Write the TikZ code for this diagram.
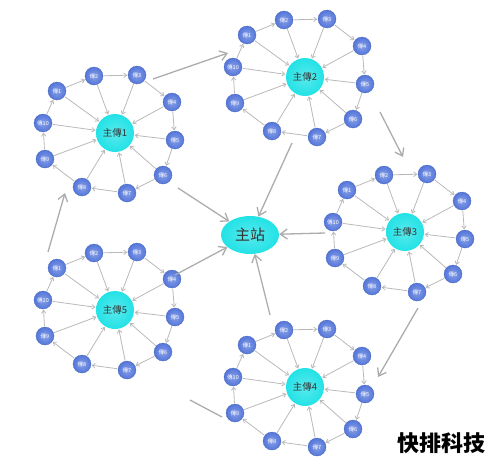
\documentclass[tikz,border=0pt]{standalone}
\usepackage{fontspec}
\setmainfont{Noto Sans CJK SC}
\usepackage{xcolor}
\usetikzlibrary{arrows.meta,calc,positioning,shapes.geometric}
\definecolor{slaveblue}{RGB}{84,118,218}
\definecolor{hubcyan}{RGB}{34,226,230}
\tikzset{%
	slave/.style   = {circle, draw=slaveblue!85!black, line width=0.3pt, inner color=slaveblue!70!white, outer color=slaveblue, minimum size=18pt, inner sep=0pt, text=white, font=\fontsize{5.5}{5.5}\selectfont},
	master/.style  = {circle, inner color=hubcyan!75!white, outer color=hubcyan, minimum size=38pt, inner sep=0pt, text=black!80, font=\fontsize{9.5}{10}\selectfont},
	station/.style = {ellipse, inner color=hubcyan!75!white, outer color=hubcyan, minimum width=58pt, minimum height=38pt, inner sep=0pt, text=black!80, font=\fontsize{15}{15}\selectfont},
	ring/.style    = {draw=gray!55, line width=0.8pt, -{Straight Barb[length=3pt,width=4.5pt]}, shorten <=0.5pt, shorten >=0.5pt},
	link/.style    = {draw=gray!65, line width=1.3pt, -{Straight Barb[length=7pt,width=10pt]}},
}

\begin{document}
\begin{tikzpicture}[x=1pt,y=-1pt]
	\useasboundingbox (0,0) rectangle (501,466);
	
	% main station
	\node[station] (st) at (250,235) {主站};
	
	% five clusters, each with ten slaves around a master
	\foreach \c/\cx/\cy in {1/115/133, 2/305/77, 3/405/232, 4/305/387, 5/115/310} {
		\node[master] (m\c) at (\cx,\cy) {主傳\c};
		\foreach \i/\dx/\dy in {1/-58/-42, 2/-21/-57, 3/22/-58, 4/57/-31, 5/60/7, 6/48/42, 7/12/60, 8/-33/54, 9/-70/26, 10/-72/-10}
			\node[slave] (s\c-\i) at ($(m\c)+(\dx,\dy)$) {傳\i};
		\foreach \i [evaluate=\i as \j using {int(mod(\i,10)+1)}] in {1,...,10} {
			\draw[ring] (s\c-\i) -- (s\c-\j);
			\draw[ring] (s\c-\i) -- (m\c);
		}
	}
	
	% links between the clusters
	\coordinate (a1) at (153,79);  \coordinate (a2) at (228,53);
	\coordinate (b1) at (380,112); \coordinate (b2) at (403,157);
	\coordinate (c1) at (418,308); \coordinate (c2) at (378,377);
	\coordinate (d1) at (222,417); \coordinate (d2) at (190,400);
	\coordinate (e1) at (48,252);  \coordinate (e2) at (65,193);
	\draw[link] (a1) -- (a2);
	\draw[link] (b1) -- (b2);
	\draw[link] (c1) -- (c2);
	\draw[link,-] (d1) -- (d2);
	\draw[link] (e1) -- (e2);
	
	% links to the main station
	\coordinate (f1) at (178,188); \coordinate (f2) at (292,143);
	\coordinate (f3) at (325,233); \coordinate (f4) at (270,315);
	\coordinate (f5) at (175,275);
	\draw[link] (f1) -- (st);
	\draw[link] (f2) -- (st);
	\draw[link] (f3) -- (st);
	\draw[link] (f4) -- (st);
	\draw[link] (f5) -- (st);
	
	\node[font=\fontsize{22}{22}\selectfont\bfseries] (brand) at (441,443) {快排科技};
\end{tikzpicture}
\end{document}
